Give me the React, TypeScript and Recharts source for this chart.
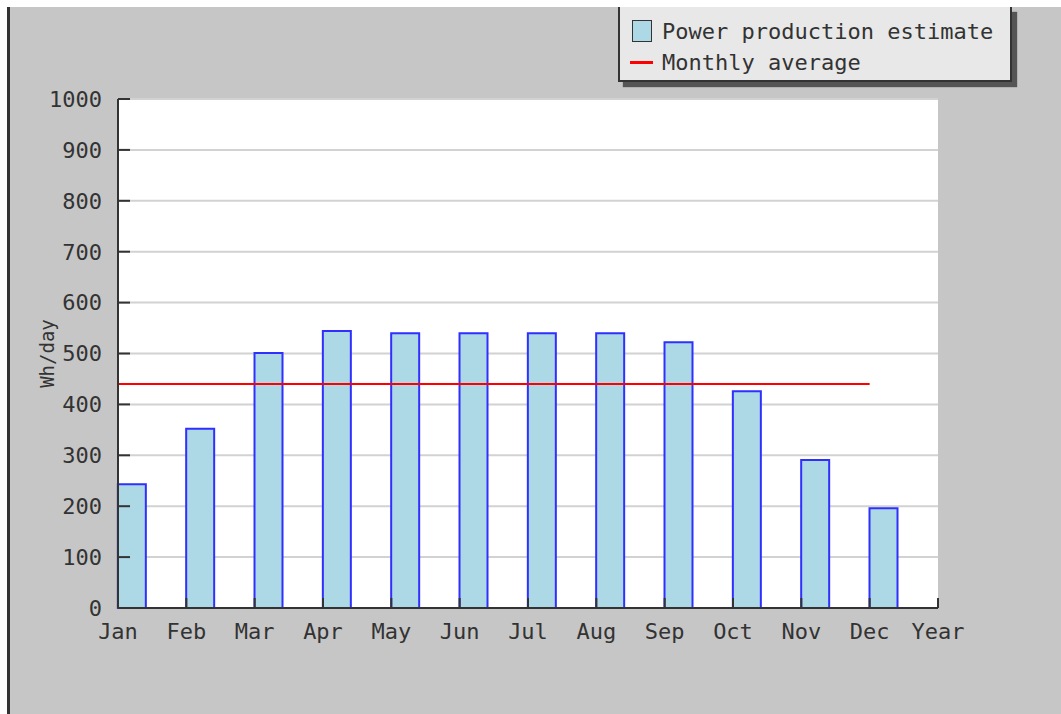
import React from 'react';
import { BarChart, Bar, XAxis, YAxis, CartesianGrid, ReferenceLine, Label } from 'recharts';

const FONT = '"DejaVu Sans Mono", "Liberation Mono", monospace';

const months = ['Jan', 'Feb', 'Mar', 'Apr', 'May', 'Jun', 'Jul', 'Aug', 'Sep', 'Oct', 'Nov', 'Dec'];
const xLabels = [...months, 'Year'];
const production = [243, 352, 501, 544, 540, 540, 540, 540, 522, 426, 291, 196];
const monthlyAverage = 440;
const yTicks = [0, 100, 200, 300, 400, 500, 600, 700, 800, 900, 1000];
const xTickIndex = xLabels.map((_, i) => i);

// bars sit just right of their month tick
const BAR_SHIFT = 0.205;

const data = production.map((v, i) => ({ month: months[i], x: i + BAR_SHIFT, value: v }));

const TEXT = '#333';

export default function App() {
  return (
    <div
      style={{
        position: 'absolute',
        left: 0,
        top: 0,
        width: 1061,
        height: 714,
        background: '#fff',
        overflow: 'hidden',
        fontFamily: FONT,
      }}
    >
      <div
        style={{
          position: 'absolute',
          left: 7,
          top: 7,
          right: 0,
          bottom: 0,
          background: '#c6c6c6',
          borderLeft: '3px solid #333',
        }}
      />
      <div style={{ position: 'absolute', left: 0, top: 0 }}>
        <BarChart
          width={1061}
          height={714}
          data={data}
          margin={{ top: 99, right: 123, bottom: 76, left: 58 }}
        >
          <CartesianGrid vertical={false} fill="#fff" stroke="#d2d2d2" strokeWidth={2} />
          <XAxis
            type="number"
            dataKey="x"
            domain={[0, 12]}
            ticks={xTickIndex}
            interval={0}
            tickFormatter={(v: number) => xLabels[v] ?? ''}
            height={30}
            tickSize={-10}
            tickMargin={25}
            axisLine={{ stroke: '#333', strokeWidth: 2 }}
            tickLine={{ stroke: '#333', strokeWidth: 2 }}
            tick={{ fill: TEXT, fontSize: 22, fontFamily: FONT }}
          />
          <YAxis
            type="number"
            domain={[0, 1000]}
            ticks={yTicks}
            interval={0}
            width={60}
            tickSize={-12}
            tickMargin={28}
            axisLine={{ stroke: '#333', strokeWidth: 2 }}
            tickLine={{ stroke: '#333', strokeWidth: 2 }}
            tick={{ fill: TEXT, fontSize: 22, fontFamily: FONT }}
          >
            <Label
              value="Wh/day"
              angle={-90}
              position="center"
              dx={-41}
              style={{ fill: TEXT, fontSize: 19, fontFamily: FONT }}
            />
          </YAxis>
          <Bar
            dataKey="value"
            fill="#add8e6"
            stroke="#2f2fff"
            strokeWidth={2}
            barSize={28}
            isAnimationActive={false}
          />
          <ReferenceLine
            segment={[
              { x: 0, y: monthlyAverage },
              { x: 11, y: monthlyAverage },
            ]}
            stroke="#ff0000"
            strokeWidth={2}
          />
        </BarChart>
      </div>
      <div
        style={{
          position: 'absolute',
          left: 618,
          top: 7,
          width: 390,
          height: 73,
          background: '#e8e8e8',
          borderLeft: '2px solid #333',
          borderRight: '2px solid #333',
          borderBottom: '2px solid #333',
          boxShadow: '5px 5px 1px #555',
          color: TEXT,
          fontSize: 22,
          fontFamily: FONT,
        }}
      >
        <div style={{ position: 'absolute', left: 12, top: 12, display: 'flex', alignItems: 'center', height: 24 }}>
          <div style={{ width: 18, height: 20, background: '#add8e6', border: '1px solid #333', boxSizing: 'content-box' }} />
          <span style={{ marginLeft: 10, whiteSpace: 'nowrap' }}>Power production estimate</span>
        </div>
        <div style={{ position: 'absolute', left: 10, top: 43, display: 'flex', alignItems: 'center', height: 24 }}>
          <div style={{ width: 23, height: 3, background: '#ff0000' }} />
          <span style={{ marginLeft: 9, whiteSpace: 'nowrap' }}>Monthly average</span>
        </div>
      </div>
    </div>
  );
}
